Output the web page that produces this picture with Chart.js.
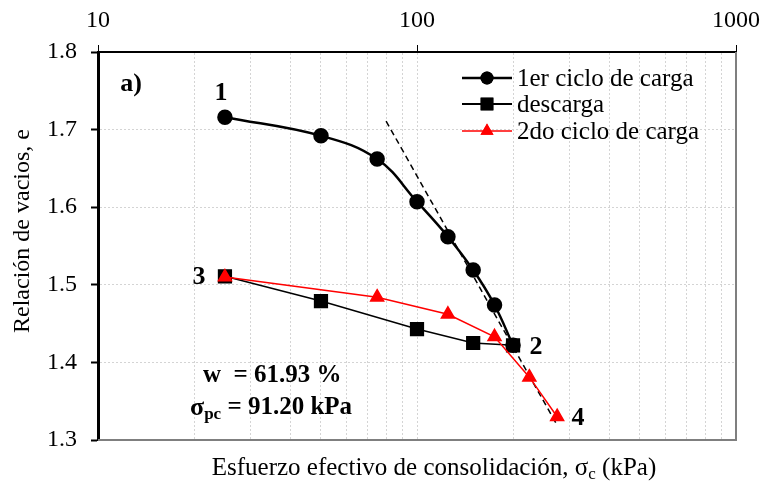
<!DOCTYPE html>
<html>
<head>
<meta charset="utf-8">
<script src="https://cdn.jsdelivr.net/npm/chart.js@4.4.1/dist/chart.umd.min.js"></script>
<style>
  html, body { margin: 0; padding: 0; background: #fff; }
  #wrap { width: 770px; height: 492px; position: relative; }
</style>
</head>
<body>
<div id="wrap"><canvas id="c" width="770" height="492"></canvas></div>
<script>
// data
const cargaX = [25, 50, 75, 100, 125, 150, 175, 200];
const cargaE = [1.716, 1.692, 1.662, 1.607, 1.562, 1.519, 1.474, 1.422];
const descargaX = [200, 150, 100, 50, 25];
const descargaE = [1.422, 1.425, 1.443, 1.479, 1.511];
const carga2X = [25, 75, 125, 175, 225, 275];
const carga2E = [1.510, 1.484, 1.462, 1.433, 1.381, 1.330];
const ccLineX = [80, 275];
const ccLineE = [1.711, 1.319];
const xTicks = [10, 100, 1000];
const yTicks = [1.3, 1.4, 1.5, 1.6, 1.7, 1.8];

const FONT = "'Liberation Serif', 'Times New Roman', serif";

function pts(xs, ys) {
  return xs.map((x, i) => ({ x: x, y: ys[i] }));
}

// legend, borders and the text bits
const extras = {
  id: 'extras',
  afterDraw(chart) {
    const ctx = chart.ctx;
    const a = chart.chartArea;
    ctx.save();

    // bottom and right frame
    ctx.strokeStyle = '#7f7f7f';
    ctx.lineWidth = 2;
    ctx.beginPath();
    ctx.moveTo(a.left, a.bottom);
    ctx.lineTo(a.right, a.bottom);
    ctx.lineTo(a.right, a.top);
    ctx.stroke();

    ctx.fillStyle = '#000';
    ctx.textBaseline = 'middle';
    ctx.textAlign = 'center';
    ctx.font = 'bold 26px ' + FONT;
    ctx.fillText('a)', 131, 84);
    ctx.fillText('1', 221, 93);
    ctx.fillText('3', 199, 277);
    ctx.fillText('2', 536, 347);
    ctx.fillText('4', 578, 418);

    // w and sigma_pc
    ctx.textAlign = 'left';
    ctx.font = 'bold 25px ' + FONT;
    ctx.fillText('w  = 61.93 %', 203, 376);
    ctx.font = 'bold 26px ' + FONT;
    ctx.fillText('\u03c3', 190, 408);
    let sw = ctx.measureText('\u03c3').width;
    ctx.font = 'bold 17px ' + FONT;
    ctx.fillText('pc', 190 + sw, 415);
    let pw = ctx.measureText('pc').width;
    ctx.font = 'bold 25px ' + FONT;
    ctx.fillText(' = 91.20 kPa', 190 + sw + pw, 408);

    // legend
    const rows = [
      { label: '1er ciclo de carga', color: '#000', width: 2.5, style: 'circle', r: 6.5 },
      { label: 'descarga', color: '#000', width: 1.8, style: 'rect', r: 9 },
      { label: '2do ciclo de carga', color: '#ff0000', width: 1.5, style: 'triangle', r: 7.5 }
    ];
    const ly = [78, 104, 131];
    rows.forEach((r, i) => {
      ctx.strokeStyle = r.color;
      ctx.lineWidth = r.width;
      ctx.beginPath();
      ctx.moveTo(462, ly[i]);
      ctx.lineTo(512, ly[i]);
      ctx.stroke();
      ctx.fillStyle = r.color;
      Chart.helpers.drawPoint(ctx, { pointStyle: r.style, radius: r.r, borderWidth: 0, rotation: 0 }, 487, ly[i]);
      ctx.fill();
      ctx.fillStyle = '#000';
      ctx.font = '25px ' + FONT;
      ctx.textAlign = 'left';
      ctx.fillText(r.label, 517, ly[i] + 1);
    });

    // y title
    ctx.save();
    ctx.translate(23, 231);
    ctx.rotate(-Math.PI / 2);
    ctx.textAlign = 'center';
    ctx.font = '24px ' + FONT;
    ctx.fillText('Relaci\u00f3n de vacios, e', 0, 0);
    ctx.restore();

    // x title with subscript c
    ctx.font = '25px ' + FONT;
    const p1 = 'Esfuerzo efectivo de consolidaci\u00f3n, \u03c3';
    const p3 = ' (kPa)';
    ctx.textAlign = 'left';
    const w1 = ctx.measureText(p1).width;
    const w3 = ctx.measureText(p3).width;
    ctx.font = '17px ' + FONT;
    const w2 = ctx.measureText('c').width;
    let x0 = 434 - (w1 + w2 + w3) / 2;
    ctx.font = '25px ' + FONT;
    ctx.fillText(p1, x0, 468);
    ctx.font = '17px ' + FONT;
    ctx.fillText('c', x0 + w1, 475);
    ctx.font = '25px ' + FONT;
    ctx.fillText(p3, x0 + w1 + w2, 468);

    ctx.restore();
  }
};

new Chart(document.getElementById('c'), {
  type: 'scatter',
  data: {
    datasets: [
      {
        label: '1er ciclo de carga',
        data: pts(cargaX, cargaE),
        showLine: true,
        tension: 0.4,
        borderColor: '#000',
        backgroundColor: '#000',
        borderWidth: 2.5,
        pointStyle: 'circle',
        pointRadius: 6.5,
        order: 2
      },
      {
        label: 'descarga',
        data: pts(descargaX, descargaE),
        showLine: true,
        borderColor: '#000',
        backgroundColor: '#000',
        borderWidth: 1.5,
        pointStyle: 'rect',
        pointRadius: 9,
        order: 1
      },
      {
        label: '2do ciclo de carga',
        data: pts(carga2X, carga2E),
        showLine: true,
        borderColor: '#ff0000',
        backgroundColor: '#ff0000',
        borderWidth: 1.5,
        pointStyle: 'triangle',
        pointRadius: 7.5,
        order: 0
      },
      {
        label: 'Cc',
        data: pts(ccLineX, ccLineE),
        showLine: true,
        borderColor: '#000',
        borderWidth: 1.5,
        borderDash: [6, 4],
        pointRadius: 0,
        order: 3
      }
    ]
  },
  options: {
    responsive: false,
    animation: false,
    layout: { padding: { left: 0, top: 0, right: 25, bottom: 52 } },
    plugins: {
      legend: { display: false },
      tooltip: { enabled: false }
    },
    scales: {
      x: {
        type: 'logarithmic',
        position: 'top',
        min: 10,
        max: 1000,
        afterFit: s => { s.height = 52; },
        afterBuildTicks: s => {
          const t = [];
          for (let d = 10; d < 1000; d *= 10) {
            for (let k = 1; k < 10; k++) t.push({ value: d * k });
          }
          t.push({ value: 1000 });
          s.ticks = t;
        },
        ticks: {
          autoSkip: false,
          maxRotation: 0,
          padding: 10,
          color: '#000',
          font: { family: FONT, size: 24 },
          callback: v => xTicks.includes(v) ? String(v) : ''
        },
        grid: {
          color: '#d4d4d4',
          lineWidth: 1,
          tickLength: 7,
          tickColor: c => (c.tick && xTicks.includes(c.tick.value)) ? '#000' : 'rgba(0,0,0,0)'
        },
        border: { display: true, color: '#000', width: 2, dash: [2, 2] }
      },
      y: {
        min: 1.3,
        max: 1.8,
        afterFit: s => { s.width = 98; },
        afterBuildTicks: s => { s.ticks = yTicks.map(v => ({ value: v })); },
        ticks: {
          padding: 14,
          color: '#000',
          font: { family: FONT, size: 24 },
          callback: v => Number(v).toFixed(1)
        },
        grid: {
          color: '#d4d4d4',
          lineWidth: 1,
          tickLength: 7,
          tickColor: '#000',
          tickWidth: 2
        },
        border: { display: true, color: '#000', width: 3, dash: [2, 2] }
      }
    }
  },
  plugins: [extras]
});
</script>
</body>
</html>
